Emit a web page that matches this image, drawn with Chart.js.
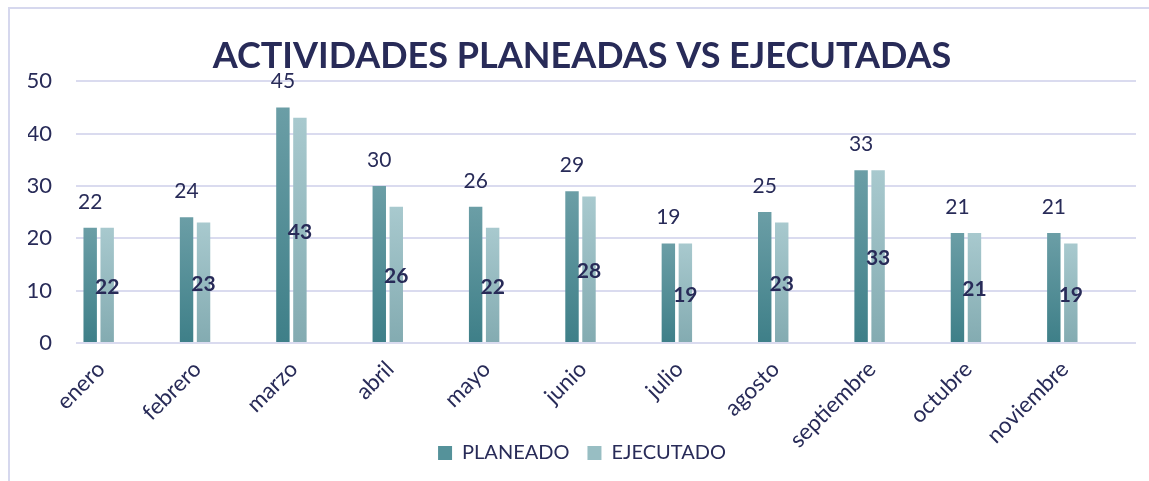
<!DOCTYPE html>
<html>
<head>
<meta charset="utf-8">
<script src="https://cdn.jsdelivr.net/npm/chart.js@4"></script>
<style>
  html, body { margin: 0; padding: 0; background: #ffffff; }
  #wrap { width: 1149px; height: 481px; position: relative; }
</style>
</head>
<body>
<div id="wrap"><canvas id="chart"></canvas></div>
<script>
// chart data
const meses = ['enero', 'febrero', 'marzo', 'abril', 'mayo', 'junio', 'julio', 'agosto', 'septiembre', 'octubre', 'noviembre'];
const planeado = [22, 24, 45, 30, 26, 29, 19, 25, 33, 21, 21];
const ejecutado = [22, 23, 43, 26, 22, 28, 19, 23, 33, 21, 19];
const yTicks = [0, 10, 20, 30, 40, 50];

const textColor = '#282b58';
const gridColor = '#dadbef';
const fontName = 'Lato';

// gradient per bar, lighter on top
function barGradient(top, bottom) {
    return function (ctx) {
        const chart = ctx.chart;
        if (!chart.chartArea || ctx.raw == null) return bottom;
        const y = chart.scales.y;
        const y0 = y.getPixelForValue(ctx.raw);
        const y1 = y.getPixelForValue(0);
        const g = chart.ctx.createLinearGradient(0, y0, 0, y1);
        g.addColorStop(0, top);
        g.addColorStop(1, bottom);
        return g;
    };
}

// border around the chart
const frame = {
    id: 'frame',
    beforeDraw(chart) {
        const c = chart.ctx;
        c.save();
        c.fillStyle = '#ffffff';
        c.fillRect(0, 0, chart.width, chart.height);
        c.strokeStyle = '#d6d8ee';
        c.lineWidth = 2;
        c.strokeRect(9, 8, chart.width + 20, chart.height + 20);
        c.restore();
    }
};

// value labels on the bars
const valueLabels = {
    id: 'valueLabels',
    afterDatasetsDraw(chart) {
        const c = chart.ctx;
        c.save();
        c.fillStyle = textColor;
        c.textAlign = 'center';
        c.textBaseline = 'middle';
        chart.getDatasetMeta(0).data.forEach((bar, i) => {
            c.font = '21px ' + fontName;
            c.fillText(planeado[i], bar.x, bar.y - 26);
        });
        chart.getDatasetMeta(1).data.forEach((bar, i) => {
            c.font = 'bold 21px ' + fontName;
            c.fillText(ejecutado[i], bar.x, (bar.y + bar.base) / 2 + 2);
        });
        c.restore();
    }
};

const empty = meses.map(() => null);

new Chart(document.getElementById('chart'), {
    type: 'bar',
    data: {
        labels: meses,
        datasets: [
            {
                label: 'PLANEADO',
                data: planeado,
                backgroundColor: barGradient('#6b9ea6', '#3e7f88')
            },
            {
                label: 'EJECUTADO',
                data: ejecutado,
                backgroundColor: barGradient('#a8c9ce', '#83abb1')
            },
            // empty series, Excel keeps room for them
            { label: '', data: empty },
            { label: '', data: empty },
            { label: '', data: empty }
        ]
    },
    options: {
        responsive: true,
        maintainAspectRatio: false,
        animation: false,
        datasets: {
            bar: { categoryPercentage: 0.882, barPercentage: 0.79 }
        },
        layout: { padding: { left: 28, right: 13, top: 0, bottom: 8 } },
        scales: {
            x: {
                grid: { display: false },
                border: { display: false },
                ticks: {
                    color: textColor,
                    font: { family: fontName, size: 22.5 },
                    minRotation: 45,
                    maxRotation: 45,
                    // mirror keeps long labels from being cut at the legend
                    mirror: true,
                    padding: -32,
                    labelOffset: -4
                },
                afterFit: (scale) => { scale.height = 82; }
            },
            y: {
                min: 0,
                max: 50,
                afterBuildTicks: (scale) => { scale.ticks = yTicks.map(v => ({ value: v })); },
                grid: { color: gridColor, lineWidth: 2, drawTicks: false },
                border: { display: false },
                ticks: {
                    color: textColor,
                    font: { family: fontName, size: 22 },
                    padding: 24
                },
                afterFit: (scale) => { scale.width = 48; }
            }
        },
        plugins: {
            title: {
                display: true,
                text: 'ACTIVIDADES PLANEADAS VS EJECUTADAS',
                color: textColor,
                font: { family: fontName, size: 36, weight: 'bold' },
                padding: { top: 35, bottom: 3 }
            },
            legend: {
                position: 'bottom',
                labels: {
                    color: textColor,
                    font: { family: fontName, size: 20 },
                    boxWidth: 14,
                    boxHeight: 14,
                    padding: 18,
                    filter: (item) => item.text !== '',
                    generateLabels: (chart) => {
                        const fills = ['#55929a', '#98bec3'];
                        return chart.data.datasets.map((ds, i) => ({
                            text: ds.label,
                            fillStyle: fills[i] || '#ffffff',
                            strokeStyle: fills[i] || '#ffffff',
                            lineWidth: 0,
                            fontColor: textColor,
                            datasetIndex: i
                        }));
                    }
                }
            },
            tooltip: { enabled: false }
        }
    },
    plugins: [frame, valueLabels]
});
</script>
</body>
</html>
